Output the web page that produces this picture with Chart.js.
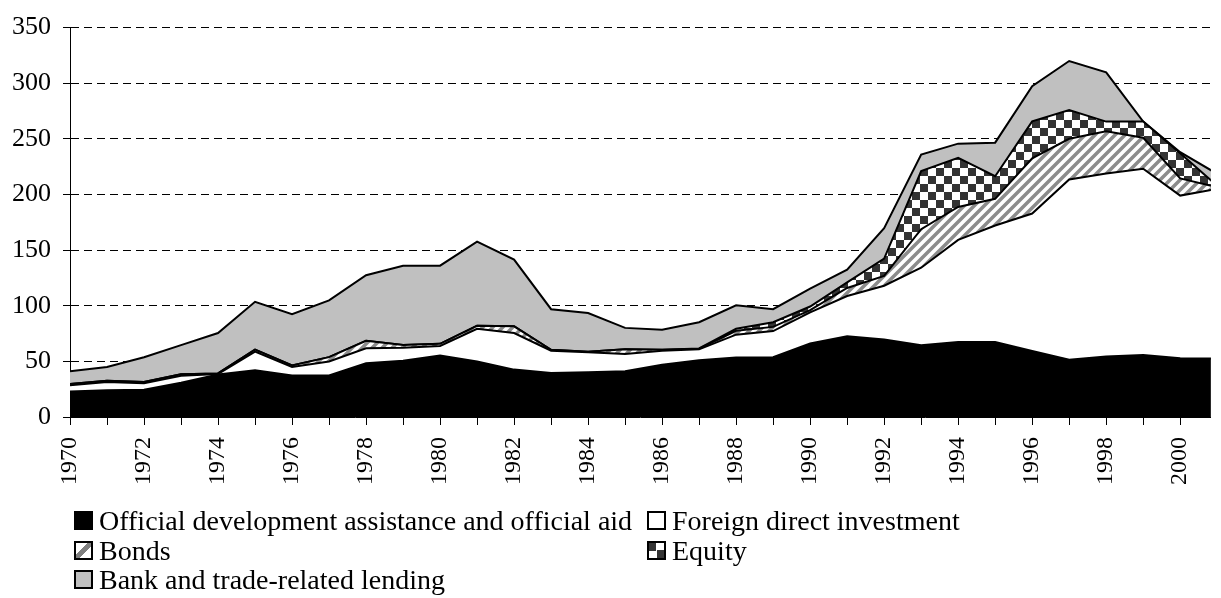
<!DOCTYPE html>
<html>
<head>
<meta charset="utf-8">
<script src="https://cdn.jsdelivr.net/npm/chart.js@4"></script>
<style>
  html, body { margin: 0; padding: 0; background: #fff; overflow: hidden; }
  #wrap { position: relative; width: 1221px; height: 598px; }
  #legend { position: absolute; left: 0; top: 0; width: 1221px; height: 598px; pointer-events: none;
            font-family: "Liberation Serif", "Times New Roman", serif; font-size: 28px; color: #000; }
  .item { position: absolute; height: 30px; line-height: 30px; white-space: nowrap; }
  .box { position: absolute; left: 0; top: 5px; width: 19px; height: 19px; box-sizing: border-box; border: 2px solid #000; }
  .item span { position: absolute; left: 25px; top: 0; }
</style>
</head>
<body>
<div id="wrap">
  <canvas id="flows" width="1221" height="598"></canvas>
  <div id="legend"></div>
</div>
<script>
// Net resource flows, billions of dollars
const years = [1970, 1971, 1972, 1973, 1974, 1975, 1976, 1977, 1978, 1979, 1980, 1981, 1982, 1983, 1984, 1985,
               1986, 1987, 1988, 1989, 1990, 1991, 1992, 1993, 1994, 1995, 1996, 1997, 1998, 1999, 2000, 2001];
const oda = [22.9, 24.1, 24.4, 30.8, 38.2, 42.0, 37.3, 37.3, 48.4, 50.5, 55.2, 49.9, 42.6, 39.6, 40.2, 41.1,
             47.0, 51.1, 53.5, 53.7, 66.1, 72.6, 69.6, 64.6, 67.5, 67.5, 59.3, 51.4, 54.3, 55.8, 52.8, 52.5];
const fdi = [5.6, 7.3, 5.9, 6.2, 0.5, 16.7, 7.6, 12.6, 13.3, 11.8, 8.6, 29.4, 32.9, 20.0, 17.9, 15.6,
             12.6, 9.7, 20.5, 23.5, 27.9, 36.1, 48.4, 69.6, 91.7, 104.6, 123.6, 162.1, 164.5, 167.4, 146.2, 152.6];
const bonds = [1.1, 1.1, 1.2, 1.5, 0.5, 1.8, 1.4, 3.9, 6.8, 2.5, 2.0, 2.7, 6.0, 0.8, 0.5, 4.3,
               0.8, 0.6, 3.5, 3.8, 2.0, 7.3, 8.8, 34.6, 29.6, 24.0, 49.6, 36.6, 38.1, 27.8, 15.5, 1.5];
const equity = [0, 0, 0, 0, 0, 0, 0, 0, 0, 0, 0, 0, 0, 0, 0, 0,
                0.1, 0.2, 1.8, 4.2, 3.3, 5.0, 15.6, 52.3, 44.1, 20.3, 33.2, 25.9, 8.6, 14.5, 22.5, 1.1];
const bank = [11.5, 12.4, 22.2, 26.1, 36.3, 43.0, 46.2, 51.0, 58.9, 71.2, 70.2, 75.7, 60.0, 36.5, 34.8, 19.1,
              17.9, 23.6, 21.1, 11.7, 16.1, 11.5, 27.3, 14.7, 12.8, 30.2, 31.7, 44.0, 44.3, 0, 1.0, 10.8];
const seriesNames = ['Official development assistance and official aid', 'Foreign direct investment',
                     'Bonds', 'Equity', 'Bank and trade-related lending'];

const FONT = '"Liberation Serif", "Times New Roman", serif';

// fill patterns
function stripes() {
  const c = document.createElement('canvas');
  c.width = 10; c.height = 10;
  const g = c.getContext('2d');
  g.fillStyle = '#fff';
  g.fillRect(0, 0, 10, 10);
  g.strokeStyle = '#8c8c8c';
  g.lineWidth = 3.5;
  g.beginPath();
  g.moveTo(-3, 13); g.lineTo(13, -3);
  g.moveTo(-3, 3); g.lineTo(3, -3);
  g.moveTo(7, 13); g.lineTo(13, 7);
  g.stroke();
  return g.createPattern(c, 'repeat');
}

function checker() {
  const c = document.createElement('canvas');
  c.width = 16; c.height = 16;
  const g = c.getContext('2d');
  g.fillStyle = '#fff';
  g.fillRect(0, 0, 16, 16);
  g.fillStyle = '#333';
  g.fillRect(0, 0, 8, 8);
  g.fillRect(8, 8, 8, 8);
  return g.createPattern(c, 'repeat');
}

const fills = ['#000', '#fff', stripes(), checker(), '#c0c0c0'];
const values = [oda, fdi, bonds, equity, bank];

const datasets = values.map((v, i) => ({
  label: seriesNames[i],
  data: v,
  backgroundColor: fills[i],
  borderColor: '#000',
  borderWidth: 2,
  pointRadius: 0,
  tension: 0,
  fill: i === 0 ? 'origin' : '-1'
}));

new Chart(document.getElementById('flows'), {
  type: 'line',
  data: { labels: years, datasets },
  options: {
    responsive: false,
    animation: false,
    layout: { padding: { top: 19, right: 0, left: 0, bottom: 0 } },
    plugins: { legend: { display: false }, tooltip: { enabled: false } },
    scales: {
      x: {
        type: 'linear',
        min: 1970,
        max: 2000.83,
        grid: { drawOnChartArea: false, drawTicks: true, tickLength: 8, tickColor: '#000' },
        border: { color: '#000', width: 1 },
        ticks: {
          stepSize: 1,
          includeBounds: false,
          autoSkip: false,
          minRotation: 90,
          maxRotation: 90,
          padding: 12,
          color: '#000',
          font: { family: FONT, size: 24 },
          callback: v => (v % 2 === 0 ? String(v) : '')
        },
        afterFit: s => { s.height = 181; }
      },
      y: {
        stacked: true,
        min: 0,
        max: 350,
        grid: { color: '#000', lineWidth: 1, tickLength: 7, tickColor: '#000' },
        border: { color: '#000', width: 1, dash: [8, 5] },
        ticks: {
          stepSize: 50,
          padding: 12,
          color: '#000',
          font: { family: FONT, size: 26 }
        },
        afterFit: s => { s.width = 70; }
      }
    }
  }
});

// legend laid out in two columns like the original
const legendPos = [[74, 506], [647, 506], [74, 536], [647, 536], [74, 565]];
const swatches = [
  'background:#000',
  'background:#fff',
  'background:linear-gradient(135deg,#fff 0 38%,#808080 38% 62%,#fff 62%)',
  'background:conic-gradient(#fff 0 25%,#333 0 50%,#fff 0 75%,#333 0)',
  'background:#c0c0c0'
];
const legend = document.getElementById('legend');
seriesNames.forEach((name, i) => {
  const el = document.createElement('div');
  el.className = 'item';
  el.style.left = legendPos[i][0] + 'px';
  el.style.top = legendPos[i][1] + 'px';
  el.innerHTML = '<div class="box" style="' + swatches[i] + '"></div><span></span>';
  el.querySelector('span').textContent = name;
  legend.appendChild(el);
});
</script>
</body>
</html>
